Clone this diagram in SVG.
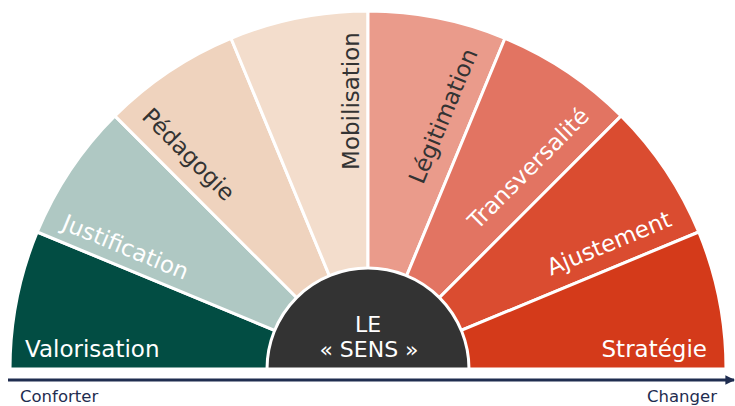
<svg xmlns="http://www.w3.org/2000/svg" width="735" height="406" viewBox="0 0 735 406">
<style>
.seg{stroke:#fff;stroke-width:3;stroke-linejoin:round}
.lbl{font-family:"DejaVu Sans","Noto Sans",sans-serif;font-size:23px}
.w{fill:#fff}
.d{fill:#333}
.ax{font-family:"DejaVu Sans","Noto Sans",sans-serif;font-size:16.5px;fill:#1f2d50}
</style>
<defs>
<marker id="arr" viewBox="0 0 10 10" refX="9" refY="5" markerWidth="3.2" markerHeight="3.6" orient="auto" markerUnits="strokeWidth">
<path d="M0,0 L10,5 L0,10 Z" fill="#1f2d50"/>
</marker>
</defs>
<rect width="735" height="406" fill="#fff"/>
<g id="valorisation">
<path class="seg" fill="#024d43" d="M368,369 L10,369 A358,358 0 0 1 37.25,232 Z"/>
<text class="lbl w" x="25" y="357">Valorisation</text>
</g>
<g id="justification">
<path class="seg" fill="#afc8c3" d="M368,369 L37.25,232 A358,358 0 0 1 114.86,115.86 Z"/>
<text class="lbl w" text-anchor="middle" transform="translate(122.5,254.5) rotate(22.5)">Justification</text>
</g>
<g id="pedagogie">
<path class="seg" fill="#efd3be" d="M368,369 L114.86,115.86 A358,358 0 0 1 231,38.25 Z"/>
<text class="lbl d" text-anchor="middle" transform="translate(183,160) rotate(45)">Pédagogie</text>
</g>
<g id="mobilisation">
<path class="seg" fill="#f3ddcc" d="M368,369 L231,38.25 A358,358 0 0 1 368,11 Z"/>
<text class="lbl d" text-anchor="middle" transform="translate(359,101) rotate(-90)">Mobilisation</text>
</g>
<g id="legitimation">
<path class="seg" fill="#ea9b8b" d="M368,369 L368,11 A358,358 0 0 1 505,38.25 Z"/>
<text class="lbl d" text-anchor="middle" transform="translate(450.5,119) rotate(-67.5)">Légitimation</text>
</g>
<g id="transversalite">
<path class="seg" fill="#e27462" d="M368,369 L505,38.25 A358,358 0 0 1 621.14,115.86 Z"/>
<text class="lbl w" text-anchor="middle" transform="translate(534,174) rotate(-45)">Transversalité</text>
</g>
<g id="ajustement">
<path class="seg" fill="#da4c30" d="M368,369 L621.14,115.86 A358,358 0 0 1 698.75,232 Z"/>
<text class="lbl w" text-anchor="middle" transform="translate(612,250.5) rotate(-22.5)">Ajustement</text>
</g>
<g id="strategie">
<path class="seg" fill="#d43a1a" d="M368,369 L698.75,232 A358,358 0 0 1 726,369 Z"/>
<text class="lbl w" text-anchor="end" x="707" y="357">Stratégie</text>
</g>
<g id="le-sens">
<path d="M267,369 A101,101 0 0 1 469,369 Z" fill="#333" stroke="#fff" stroke-width="3"/>
<text class="lbl w" font-size="22" style="font-size:22px" text-anchor="middle" x="368" y="331.5">LE</text>
<text class="lbl w" style="font-size:22px" text-anchor="middle" x="369" y="357">« SENS »</text>
</g>
<g id="connectors">
<line x1="8" y1="380" x2="734" y2="380" stroke="#1f2d50" stroke-width="3" marker-end="url(#arr)"/>
</g>
<g id="axis-labels">
<text class="ax" x="20" y="401.5">Conforter</text>
<text class="ax" x="717" y="401.5" text-anchor="end">Changer</text>
</g>
</svg>
